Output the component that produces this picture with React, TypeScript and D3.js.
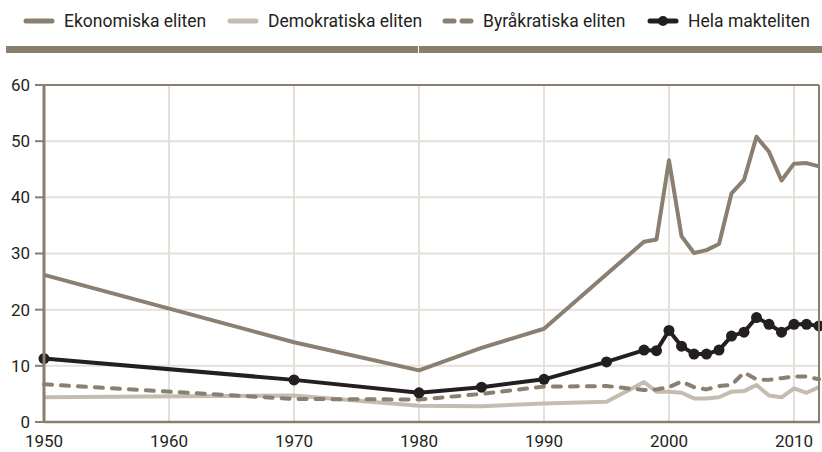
import React from 'react';
import * as d3 from 'd3';

// years shared by every series
const years = [1950, 1970, 1980, 1985, 1990, 1995, 1998, 1999, 2000, 2001, 2002, 2003, 2004, 2005, 2006, 2007, 2008, 2009, 2010, 2011, 2012];

const ekonomiska = [26.2, 14.2, 9.2, 13.2, 16.6, 26.3, 32.1, 32.5, 46.6, 33.1, 30.1, 30.6, 31.7, 40.7, 43.1, 50.8, 48.1, 43.0, 46.0, 46.1, 45.5];
const demokratiska = [4.4, 4.7, 2.9, 2.8, 3.3, 3.6, 7.1, 5.4, 5.4, 5.2, 4.2, 4.2, 4.4, 5.4, 5.5, 6.6, 4.7, 4.4, 6.0, 5.2, 6.2];
const byrakratiska = [6.7, 4.1, 4.0, 5.0, 6.3, 6.4, 5.7, 5.8, 6.2, 7.2, 6.2, 5.8, 6.4, 6.6, 8.8, 7.6, 7.5, 7.8, 8.1, 8.1, 7.6];
const hela = [11.3, 7.5, 5.2, 6.2, 7.6, 10.7, 12.8, 12.7, 16.3, 13.5, 12.1, 12.1, 12.8, 15.3, 16.0, 18.6, 17.4, 16.0, 17.4, 17.4, 17.1];

const xTicks = [1950, 1960, 1970, 1980, 1990, 2000, 2010];
const yTicks = [0, 10, 20, 30, 40, 50, 60];

const legendLabels = ['Ekonomiska eliten', 'Demokratiska eliten', 'Byråkratiska eliten', 'Hela makteliten'];

const AXIS = '#8a7e6e';
const GRID = '#e5e1da';
const C_EKO = '#8a7f70';
const C_DEM = '#c4bcb0';
const C_BYR = '#8a7f70';
const C_HELA = '#231f20';
const TEXT = '#231f20';
const FONT = 'Roboto, "Open Sans", sans-serif';

const W = 822;
const H = 452;
const margin = { top: 85, right: 3, bottom: 30, left: 44 };

export default function App() {
  const x = d3.scaleLinear().domain([1950, 2012]).range([margin.left, W - margin.right]);
  const y = d3.scaleLinear().domain([0, 60]).range([H - margin.bottom, margin.top]);

  const line = d3.line<number>()
    .x((d, i) => x(years[i]))
    .y(d => y(d));

  const x0 = x.range()[0];
  const x1 = x.range()[1];
  const y0 = y.range()[0];
  const y1 = y.range()[1];

  const legendX = [24, 228, 443, 648];

  return (
    <div style={{ position: 'absolute', left: 0, top: 0 }}>
      <svg width={W} height={H} style={{ display: 'block', fontFamily: FONT }}>
        <rect width={W} height={H} fill="#fff" />

        {/* legend */}
        <g>
          <line x1={legendX[0] + 2} x2={legendX[0] + 28} y1={21} y2={21} stroke={C_EKO} strokeWidth={5} strokeLinecap="round" />
          <line x1={legendX[1] + 2} x2={legendX[1] + 28} y1={21} y2={21} stroke={C_DEM} strokeWidth={5} strokeLinecap="round" />
          <line x1={legendX[2] + 2} x2={legendX[2] + 11} y1={21} y2={21} stroke={C_BYR} strokeWidth={5} strokeLinecap="round" />
          <line x1={legendX[2] + 19} x2={legendX[2] + 28} y1={21} y2={21} stroke={C_BYR} strokeWidth={5} strokeLinecap="round" />
          <line x1={legendX[3] + 2} x2={legendX[3] + 28} y1={21} y2={21} stroke={C_HELA} strokeWidth={5} strokeLinecap="round" />
          <circle cx={legendX[3] + 15} cy={21} r={5} fill={C_HELA} />
          {legendLabels.map((t, i) => (
            <text key={t} x={legendX[i] + 40} y={27} fontSize={17.5} fill={TEXT}>{t}</text>
          ))}
        </g>

        {/* heavy rule under legend */}
        <rect x={6} y={46} width={412} height={7} fill={AXIS} />
        <rect x={419} y={46} width={W - 419} height={7} fill={AXIS} />

        {/* grid */}
        {yTicks.filter(v => v > 0 && v < 60).map(v => (
          <line key={'gy' + v} x1={x0} x2={x1} y1={y(v)} y2={y(v)} stroke={GRID} strokeWidth={2} />
        ))}
        {xTicks.filter(v => v > 1950).map(v => (
          <line key={'gx' + v} x1={x(v)} x2={x(v)} y1={y1} y2={y0} stroke={GRID} strokeWidth={2} />
        ))}

        {/* series */}
        <path d={line(demokratiska) || ''} fill="none" stroke={C_DEM} strokeWidth={4} strokeLinejoin="round" />
        <path d={line(byrakratiska) || ''} fill="none" stroke={C_BYR} strokeWidth={4} strokeDasharray="8,9" strokeLinecap="round" strokeLinejoin="round" />
        <path d={line(ekonomiska) || ''} fill="none" stroke={C_EKO} strokeWidth={4} strokeLinejoin="round" />
        <path d={line(hela) || ''} fill="none" stroke={C_HELA} strokeWidth={4} strokeLinejoin="round" />
        {hela.map((v, i) => (
          <circle key={'h' + i} cx={x(years[i])} cy={y(v)} r={5.5} fill={C_HELA} />
        ))}

        {/* frame / axes */}
        <line x1={x0} x2={x1} y1={y1} y2={y1} stroke={AXIS} strokeWidth={2} />
        <line x1={x1} x2={x1} y1={y1} y2={y0} stroke={AXIS} strokeWidth={2} />
        <line x1={x0} x2={x1 + 1} y1={y0} y2={y0} stroke={AXIS} strokeWidth={2.5} />
        <line x1={x0} x2={x0} y1={y1 - 1} y2={y0 + 1} stroke={AXIS} strokeWidth={3} />

        {yTicks.map(v => (
          <g key={'yt' + v}>
            <line x1={x0 - 9} x2={x0} y1={y(v)} y2={y(v)} stroke={AXIS} strokeWidth={2} />
            <text x={x0 - 14} y={y(v)} dy="0.35em" textAnchor="end" fontSize={17} fill={TEXT}>{v}</text>
          </g>
        ))}
        {xTicks.map(v => (
          <text key={'xt' + v} x={x(v)} y={y0 + 25} textAnchor="middle" fontSize={17} fill={TEXT}>{v}</text>
        ))}
      </svg>
    </div>
  );
}
